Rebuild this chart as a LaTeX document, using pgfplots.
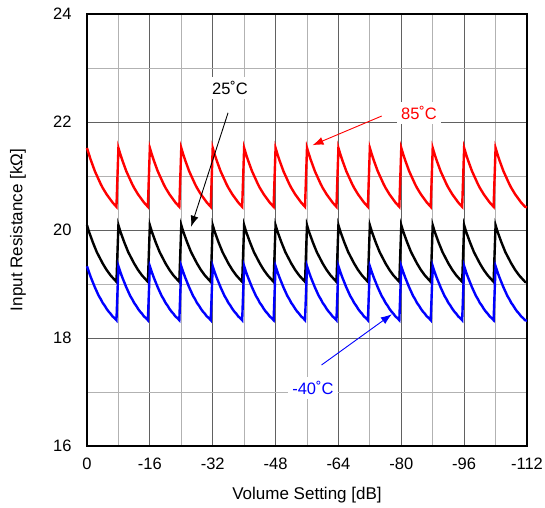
\documentclass[border=0pt]{standalone}
\usepackage{fontspec}
\setmainfont{Liberation Sans}
\usepackage{pgfplots}
\usepackage{pgfplotstable}
\pgfplotsset{compat=1.18}
\usetikzlibrary{arrows.meta}
\pgfplotstableread{
x r k b
0 21.52 20.09 19.33
-0.5 21.40 19.97 19.22
-1 21.29 19.87 19.12
-1.5 21.19 19.77 19.03
-2 21.09 19.68 18.94
-2.5 21.01 19.59 18.86
-3 20.93 19.52 18.78
-3.5 20.85 19.45 18.72
-4 20.78 19.38 18.65
-4.5 20.72 19.32 18.60
-5 20.66 19.26 18.54
-5.5 20.61 19.21 18.49
-6 20.56 19.16 18.45
-6.5 20.51 19.12 18.40
-7 20.47 19.08 18.37
-7.5 20.43 19.04 18.33
-8 21.52 20.09 19.33
-8.5 21.40 19.97 19.22
-9 21.29 19.87 19.12
-9.5 21.19 19.77 19.03
-10 21.09 19.68 18.94
-10.5 21.01 19.59 18.86
-11 20.93 19.52 18.78
-11.5 20.85 19.45 18.72
-12 20.78 19.38 18.65
-12.5 20.72 19.32 18.60
-13 20.66 19.26 18.54
-13.5 20.61 19.21 18.49
-14 20.56 19.16 18.45
-14.5 20.51 19.12 18.40
-15 20.47 19.08 18.37
-15.5 20.43 19.04 18.33
-16 21.52 20.09 19.33
-16.5 21.40 19.97 19.22
-17 21.29 19.87 19.12
-17.5 21.19 19.77 19.03
-18 21.09 19.68 18.94
-18.5 21.01 19.59 18.86
-19 20.93 19.52 18.78
-19.5 20.85 19.45 18.72
-20 20.78 19.38 18.65
-20.5 20.72 19.32 18.60
-21 20.66 19.26 18.54
-21.5 20.61 19.21 18.49
-22 20.56 19.16 18.45
-22.5 20.51 19.12 18.40
-23 20.47 19.08 18.37
-23.5 20.43 19.04 18.33
-24 21.52 20.09 19.33
-24.5 21.40 19.97 19.22
-25 21.29 19.87 19.12
-25.5 21.19 19.77 19.03
-26 21.09 19.68 18.94
-26.5 21.01 19.59 18.86
-27 20.93 19.52 18.78
-27.5 20.85 19.45 18.72
-28 20.78 19.38 18.65
-28.5 20.72 19.32 18.60
-29 20.66 19.26 18.54
-29.5 20.61 19.21 18.49
-30 20.56 19.16 18.45
-30.5 20.51 19.12 18.40
-31 20.47 19.08 18.37
-31.5 20.43 19.04 18.33
-32 21.52 20.09 19.33
-32.5 21.40 19.97 19.22
-33 21.29 19.87 19.12
-33.5 21.19 19.77 19.03
-34 21.09 19.68 18.94
-34.5 21.01 19.59 18.86
-35 20.93 19.52 18.78
-35.5 20.85 19.45 18.72
-36 20.78 19.38 18.65
-36.5 20.72 19.32 18.60
-37 20.66 19.26 18.54
-37.5 20.61 19.21 18.49
-38 20.56 19.16 18.45
-38.5 20.51 19.12 18.40
-39 20.47 19.08 18.37
-39.5 20.43 19.04 18.33
-40 21.52 20.09 19.33
-40.5 21.40 19.97 19.22
-41 21.29 19.87 19.12
-41.5 21.19 19.77 19.03
-42 21.09 19.68 18.94
-42.5 21.01 19.59 18.86
-43 20.93 19.52 18.78
-43.5 20.85 19.45 18.72
-44 20.78 19.38 18.65
-44.5 20.72 19.32 18.60
-45 20.66 19.26 18.54
-45.5 20.61 19.21 18.49
-46 20.56 19.16 18.45
-46.5 20.51 19.12 18.40
-47 20.47 19.08 18.37
-47.5 20.43 19.04 18.33
-48 21.52 20.09 19.33
-48.5 21.40 19.97 19.22
-49 21.29 19.87 19.12
-49.5 21.19 19.77 19.03
-50 21.09 19.68 18.94
-50.5 21.01 19.59 18.86
-51 20.93 19.52 18.78
-51.5 20.85 19.45 18.72
-52 20.78 19.38 18.65
-52.5 20.72 19.32 18.60
-53 20.66 19.26 18.54
-53.5 20.61 19.21 18.49
-54 20.56 19.16 18.45
-54.5 20.51 19.12 18.40
-55 20.47 19.08 18.37
-55.5 20.43 19.04 18.33
-56 21.52 20.09 19.33
-56.5 21.40 19.97 19.22
-57 21.29 19.87 19.12
-57.5 21.19 19.77 19.03
-58 21.09 19.68 18.94
-58.5 21.01 19.59 18.86
-59 20.93 19.52 18.78
-59.5 20.85 19.45 18.72
-60 20.78 19.38 18.65
-60.5 20.72 19.32 18.60
-61 20.66 19.26 18.54
-61.5 20.61 19.21 18.49
-62 20.56 19.16 18.45
-62.5 20.51 19.12 18.40
-63 20.47 19.08 18.37
-63.5 20.43 19.04 18.33
-64 21.52 20.09 19.33
-64.5 21.40 19.97 19.22
-65 21.29 19.87 19.12
-65.5 21.19 19.77 19.03
-66 21.09 19.68 18.94
-66.5 21.01 19.59 18.86
-67 20.93 19.52 18.78
-67.5 20.85 19.45 18.72
-68 20.78 19.38 18.65
-68.5 20.72 19.32 18.60
-69 20.66 19.26 18.54
-69.5 20.61 19.21 18.49
-70 20.56 19.16 18.45
-70.5 20.51 19.12 18.40
-71 20.47 19.08 18.37
-71.5 20.43 19.04 18.33
-72 21.52 20.09 19.33
-72.5 21.40 19.97 19.22
-73 21.29 19.87 19.12
-73.5 21.19 19.77 19.03
-74 21.09 19.68 18.94
-74.5 21.01 19.59 18.86
-75 20.93 19.52 18.78
-75.5 20.85 19.45 18.72
-76 20.78 19.38 18.65
-76.5 20.72 19.32 18.60
-77 20.66 19.26 18.54
-77.5 20.61 19.21 18.49
-78 20.56 19.16 18.45
-78.5 20.51 19.12 18.40
-79 20.47 19.08 18.37
-79.5 20.43 19.04 18.33
-80 21.52 20.09 19.33
-80.5 21.40 19.97 19.22
-81 21.29 19.87 19.12
-81.5 21.19 19.77 19.03
-82 21.09 19.68 18.94
-82.5 21.01 19.59 18.86
-83 20.93 19.52 18.78
-83.5 20.85 19.45 18.72
-84 20.78 19.38 18.65
-84.5 20.72 19.32 18.60
-85 20.66 19.26 18.54
-85.5 20.61 19.21 18.49
-86 20.56 19.16 18.45
-86.5 20.51 19.12 18.40
-87 20.47 19.08 18.37
-87.5 20.43 19.04 18.33
-88 21.52 20.09 19.33
-88.5 21.40 19.97 19.22
-89 21.29 19.87 19.12
-89.5 21.19 19.77 19.03
-90 21.09 19.68 18.94
-90.5 21.01 19.59 18.86
-91 20.93 19.52 18.78
-91.5 20.85 19.45 18.72
-92 20.78 19.38 18.65
-92.5 20.72 19.32 18.60
-93 20.66 19.26 18.54
-93.5 20.61 19.21 18.49
-94 20.56 19.16 18.45
-94.5 20.51 19.12 18.40
-95 20.47 19.08 18.37
-95.5 20.43 19.04 18.33
-96 21.52 20.09 19.33
-96.5 21.40 19.97 19.22
-97 21.29 19.87 19.12
-97.5 21.19 19.77 19.03
-98 21.09 19.68 18.94
-98.5 21.01 19.59 18.86
-99 20.93 19.52 18.78
-99.5 20.85 19.45 18.72
-100 20.78 19.38 18.65
-100.5 20.72 19.32 18.60
-101 20.66 19.26 18.54
-101.5 20.61 19.21 18.49
-102 20.56 19.16 18.45
-102.5 20.51 19.12 18.40
-103 20.47 19.08 18.37
-103.5 20.43 19.04 18.33
-104 21.52 20.09 19.33
-104.5 21.40 19.97 19.22
-105 21.29 19.87 19.12
-105.5 21.19 19.77 19.03
-106 21.09 19.68 18.94
-106.5 21.01 19.59 18.86
-107 20.93 19.52 18.78
-107.5 20.85 19.45 18.72
-108 20.78 19.38 18.65
-108.5 20.72 19.32 18.60
-109 20.66 19.26 18.54
-109.5 20.61 19.21 18.49
-110 20.56 19.16 18.45
-110.5 20.51 19.12 18.40
-111 20.47 19.08 18.37
-111.5 20.43 19.04 18.33
-112 20.42 19.03 18.32
}\data
\begin{document}
\begin{tikzpicture}
\begin{axis}[
  name=ax,
  scale only axis,
  width=440bp, height=432bp,
  x dir=reverse,
  xmin=-112, xmax=0,
  ymin=16, ymax=24,
  xtick={0,-16,-32,-48,-64,-80,-96,-112},
  xticklabels={0,-16,-32,-48,-64,-80,-96,-112},
  minor xtick={-8,-24,-40,-56,-72,-88,-104},
  ytick={16,18,20,22,24},
  yticklabels={16,18,20,22,24},
  minor ytick={17,19,21,23},
  grid=both,
  major grid style={draw=black!62, line width=0.8bp},
  minor grid style={draw=black!30, line width=0.8bp},
  major tick length=0pt, minor tick length=0pt,
  axis line style={black, line width=1.6bp},
  tick label style={font=\fontsize{16.5bp}{18bp}\selectfont},
  xticklabel style={yshift=-8bp},
  yticklabel style={xshift=-12bp},
  label style={font=\fontsize{17bp}{19bp}\selectfont},
  xlabel={Volume Setting [dB]},
  ylabel={Input Resistance [kΩ]},
  xlabel style={at={(axis description cs:0.5,0)}, anchor=center, yshift=-49bp},
  ylabel style={at={(axis description cs:0,0.5)}, anchor=center, yshift=69bp},
  clip=false,
]
\addplot[red, line width=2.4bp] table[x=x, y=r] {\data};
\addplot[black, line width=2.4bp] table[x=x, y=k] {\data};
\addplot[blue, line width=2.4bp] table[x=x, y=b] {\data};
\draw[black, line width=0.9bp, -{Latex[length=11bp,width=8bp]}] (axis cs:-35.9,22.17) -- (axis cs:-26.5,20.06);
\draw[red, line width=0.9bp, -{Latex[length=11bp,width=8bp]}] (axis cs:-75.0,22.11) -- (axis cs:-57.4,21.57);
\draw[blue, line width=0.9bp, -{Latex[length=11bp,width=8bp]}] (axis cs:-59.7,17.5) -- (axis cs:-77.6,18.44);
\node[fill=white, inner sep=4bp, font=\fontsize{16.5bp}{18bp}\selectfont, text=black] at (axis cs:-36.4,22.63) {25˚C};
\node[fill=white, inner sep=4bp, font=\fontsize{16.5bp}{18bp}\selectfont, text=red] at (axis cs:-84.5,22.17) {85˚C};
\node[fill=white, inner sep=4bp, font=\fontsize{16.5bp}{18bp}\selectfont, text=blue] at (axis cs:-57.5,17.07) {-40˚C};
\end{axis}
\pgfresetboundingbox
\path[use as bounding box] ([xshift=-87bp,yshift=-62bp]ax.south west) rectangle ([xshift=18bp,yshift=14bp]ax.north east);
\end{tikzpicture}
\end{document}
